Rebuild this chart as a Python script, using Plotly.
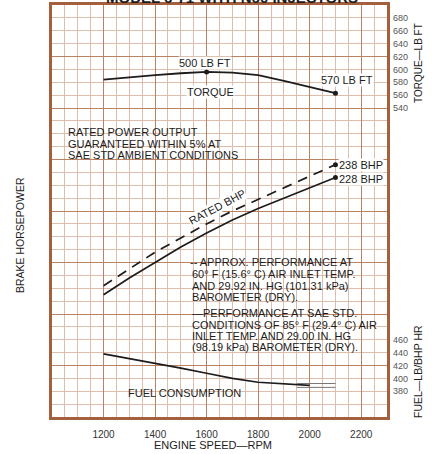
import plotly.graph_objects as go

# ---------------- data ----------------
rpm = [1200, 1300, 1400, 1500, 1600, 1700, 1800, 1900, 2000, 2100]
torque_lbft = [584, 588, 591, 594, 596, 595, 591, 582, 572, 563]
bhp_approx = [142, 155, 168, 179, 190, 200, 209, 218, 227, 236]
bhp_sae = [135, 148, 160, 172, 183, 193, 202, 210, 218, 226]

fuel_rpm = [1200, 1300, 1400, 1500, 1600, 1700, 1800, 1900, 2000]
fuel_rate = [438, 431, 424, 416, 408, 400, 394, 391, 389]
fuel_tail_rpm = [1950, 2100]
fuel_tail_upper = [392, 392]
fuel_tail_lower = [386, 386]

torque_marker_idx = [4, 9]      # 1600 and 2100 rpm
bhp_marker_idx = [9]            # 2100 rpm

x_ticks = [1200, 1400, 1600, 1800, 2000, 2200]
bhp_ticks = [120, 140, 160, 180, 200, 220, 240, 260, 280]
torque_ticks = [540, 560, 580, 600, 620, 640, 660, 680]
fuel_ticks = [380, 400, 420, 440, 460]

# ---------------- styling ----------------
FONT = "Liberation Sans, Arial, sans-serif"
INK = "#1c1c1c"
MAJOR = "#b98262"
MINOR = "#ddbdab"
BORDER = "#a4603c"

W, H = 432, 454
L, R, T, B = 52, 387, 5, 417   # plot area in pixels


def px(x):
    return (x - L) / (R - L)


def py(y):
    return (B - y) / (B - T)


fig = go.Figure()

# torque
fig.add_trace(go.Scatter(x=rpm, y=torque_lbft, yaxis="y2", mode="lines",
                         line=dict(color=INK, width=1.8), hoverinfo="skip"))
fig.add_trace(go.Scatter(x=[rpm[i] for i in torque_marker_idx],
                         y=[torque_lbft[i] for i in torque_marker_idx],
                         yaxis="y2", mode="markers",
                         marker=dict(color=INK, size=5), hoverinfo="skip"))
# bhp
fig.add_trace(go.Scatter(x=rpm, y=bhp_approx, mode="lines",
                         line=dict(color=INK, width=1.7, dash="10px,7px"),
                         hoverinfo="skip"))
fig.add_trace(go.Scatter(x=rpm, y=bhp_sae, mode="lines",
                         line=dict(color=INK, width=1.7), hoverinfo="skip"))
fig.add_trace(go.Scatter(x=[rpm[i] for i in bhp_marker_idx] * 2,
                         y=[bhp_approx[i] for i in bhp_marker_idx] +
                           [bhp_sae[i] for i in bhp_marker_idx],
                         mode="markers", marker=dict(color=INK, size=5),
                         hoverinfo="skip"))
# fuel
fig.add_trace(go.Scatter(x=fuel_rpm, y=fuel_rate, yaxis="y3", mode="lines",
                         line=dict(color=INK, width=1.7), hoverinfo="skip"))
fig.add_trace(go.Scatter(x=fuel_tail_rpm, y=fuel_tail_upper, yaxis="y3",
                         mode="lines", line=dict(color="#777777", width=1),
                         hoverinfo="skip"))
fig.add_trace(go.Scatter(x=fuel_tail_rpm, y=fuel_tail_lower, yaxis="y3",
                         mode="lines", line=dict(color="#777777", width=1),
                         hoverinfo="skip"))

# white text boxes (between grid and traces)
shapes = [
    dict(type="rect", xref="paper", yref="paper", layer="between",
         x0=px(63), x1=px(258), y0=py(163), y1=py(123),
         fillcolor="white", line=dict(width=0)),
    dict(type="rect", xref="paper", yref="paper", layer="between",
         x0=px(188), x1=px(381), y0=py(353), y1=py(252),
         fillcolor="white", line=dict(width=0)),
]


def ann(text, x, y, xanchor="left", size=11, angle=0, bg=None, color=INK):
    d = dict(text=text, x=px(x), y=py(y), xref="paper", yref="paper",
             xanchor=xanchor, yanchor="middle", showarrow=False,
             font=dict(family=FONT, size=size, color=color),
             textangle=angle, borderpad=0)
    if bg:
        d["bgcolor"] = bg
    return d


annotations = [
    ann("<b>MODEL 6-71 WITH N60 INJECTORS</b>", 232, -2, "center", size=15),
    ann("500 LB FT", 205, 63, "center", bg="white"),
    ann("570 LB FT", 347, 80, "center", bg="white"),
    ann("TORQUE", 210, 92, "center", bg="white"),
    ann("RATED POWER OUTPUT", 67, 132),
    ann("GUARANTEED WITHIN 5% AT", 67, 144),
    ann("SAE STD AMBIENT CONDITIONS", 67, 155),
    ann("RATED BHP", 217, 207, "center", angle=-28, bg="white"),
    ann("238 BHP", 338, 165, bg="white"),
    ann("228 BHP", 338, 179, bg="white"),
    ann("-- APPROX. PERFORMANCE AT", 189, 262),
    ann("60° F (15.6° C) AIR INLET TEMP.", 191, 274),
    ann("AND 29.92 IN. HG (101.31 kPa)", 191, 286),
    ann("BAROMETER (DRY).", 191, 297),
    ann("—PERFORMANCE AT SAE STD.", 191, 313),
    ann("CONDITIONS OF 85° F (29.4° C) AIR", 191, 325),
    ann("INLET TEMP. AND 29.00 IN. HG", 191, 336),
    ann("(98.19 kPa) BAROMETER (DRY).", 191, 347),
    ann("FUEL CONSUMPTION", 127, 393),
    ann("ENGINE SPEED—RPM", 213, 445, "center", size=11),
    ann("BRAKE HORSEPOWER", 20, 235, "center", size=10.5, angle=-90),
    ann("TORQUE—LB FT", 418, 63, "center", size=10, angle=-90),
    ann("FUEL—LB/BHP HR", 418, 372, "center", size=10.5, angle=-90),
]

fig.update_layout(
    width=W, height=H,
    margin=dict(l=L, r=W - R, t=T, b=H - B, autoexpand=False),
    paper_bgcolor="white", plot_bgcolor="white",
    showlegend=False,
    font=dict(family=FONT, color=INK),
    shapes=shapes, annotations=annotations,
    xaxis=dict(range=[1000, 2300], tickmode="array", tickvals=x_ticks,
               ticktext=[str(v) for v in x_ticks], ticks="",
               ticklabelstandoff=6,
               tickfont=dict(size=10, color="#333"),
               showgrid=True, gridcolor=MAJOR, gridwidth=1.4,
               minor=dict(tick0=1000, dtick=50, showgrid=True,
                          gridcolor=MINOR, gridwidth=1),
               showline=True, linecolor=BORDER, linewidth=2.5, mirror=True,
               zeroline=False, fixedrange=True),
    yaxis=dict(range=[40, 360], tickmode="linear", tick0=40, dtick=40,
               showticklabels=False, ticks="",
               showgrid=True, gridcolor=MAJOR, gridwidth=1.4,
               minor=dict(tick0=40, dtick=10, showgrid=True,
                          gridcolor=MINOR, gridwidth=1),
               showline=True, linecolor=BORDER, linewidth=2.5, mirror=True,
               zeroline=False, fixedrange=True),
    yaxis4=dict(range=[40, 360], overlaying="y", side="left",
                tickmode="array", tickvals=bhp_ticks,
                ticktext=[str(v) for v in bhp_ticks], ticks="",
                ticklabelstandoff=3,
                tickfont=dict(size=10, color="#333"),
                showgrid=False, zeroline=False, showline=False,
                fixedrange=True),
    yaxis2=dict(range=[60, 700], overlaying="y", side="right",
                tickmode="array", tickvals=torque_ticks,
                ticktext=[str(v) for v in torque_ticks], ticks="",
                ticklabelstandoff=5,
                tickfont=dict(size=9, color="#555"),
                showgrid=False, zeroline=False, showline=False,
                fixedrange=True),
    yaxis3=dict(range=[340, 980], overlaying="y", side="right",
                tickmode="array", tickvals=fuel_ticks,
                ticktext=[str(v) for v in fuel_ticks], ticks="",
                ticklabelstandoff=5,
                tickfont=dict(size=9, color="#555"),
                showgrid=False, zeroline=False, showline=False,
                fixedrange=True),
)

fig.write_html(
    "out.html",
    config={"displayModeBar": False},
    post_script="document.body.style.margin='0';document.body.style.overflow='hidden';",
)
